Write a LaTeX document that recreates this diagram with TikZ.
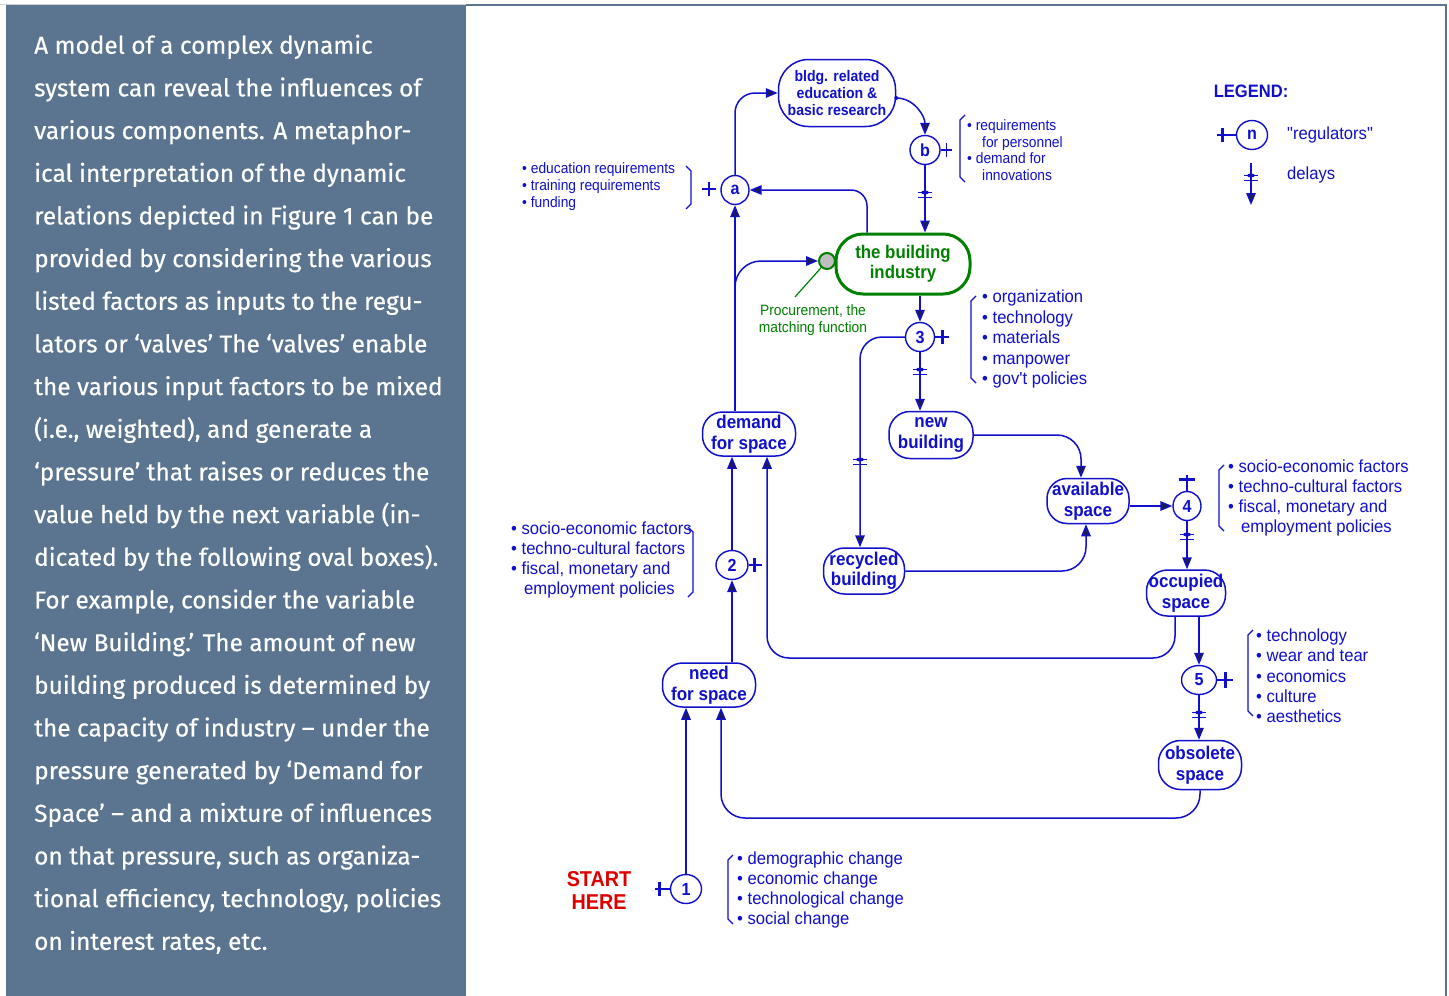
\documentclass[tikz,border=0pt]{standalone}
\usepackage{fontspec}
\setmainfont{Liberation Sans}
\newfontfamily\diafont{Liberation Sans}
\newfontfamily\labfont[FakeStretch=0.92]{Liberation Sans}
\newfontfamily\narfont[FakeStretch=0.95]{Liberation Sans}
\newfontfamily\panelfont[FakeBold=0.5]{Fira Sans}
\usetikzlibrary{arrows.meta,shapes.geometric}
\definecolor{dblue}{RGB}{16,16,204}
\definecolor{arrc}{RGB}{30,30,70}
\definecolor{dgreen}{RGB}{0,128,0}
\definecolor{sred}{RGB}{220,0,0}
\definecolor{panelc}{RGB}{91,117,144}
\newcommand\lblfont{\labfont\bfseries\fontsize{18.5}{20.5}\selectfont}
\newcommand\smfont{\labfont\fontsize{15}{17}\selectfont}
\newcommand\lstfont{\narfont\fontsize{17.5}{20.3}\selectfont}
\tikzset{
  every node/.style={inner sep=0pt},
  stad/.style={rectangle, draw=dblue, line width=1.5pt, text=dblue, align=center, font=\lblfont},
  reg/.style={ellipse, draw=dblue, line width=1.4pt, text=dblue, font=\labfont\bfseries\fontsize{17.5}{17}\selectfont, minimum width=30pt, minimum height=29pt},
  arr/.style={draw=dblue, line width=1.5pt, -{Triangle[length=12pt,width=9.5pt,fill=arrc]}},
  rl/.style={draw=dblue, line width=1.4pt},
  rb/.style={draw=dblue, line width=2.8pt},
  brk/.style={draw=dblue, line width=1.1pt},
  lst/.style={anchor=west, align=left, text=dblue, font=\lstfont},
  slst/.style={anchor=west, align=left, text=dblue, font=\smfont},
  delaymk/.pic={
    \draw[dblue, line width=1.3pt] (-7,-2.5) -- (7,-2.5) (-7,2.5) -- (7,2.5);
    \fill[dblue] (0,-2.5) ellipse [x radius=4pt, y radius=2pt];
  }
}
\begin{document}
\begin{tikzpicture}[x=1pt,y=-1pt]
\useasboundingbox (0,0) rectangle (1449,996);
\fill[white] (0,0) rectangle (1449,996);
% left panel
\draw[gray!35, line width=1pt] (0,4) -- (466,4);
\fill[panelc] (6,5) rectangle (466,996);
\draw[panelc, line width=1.5pt] (466,5) -- (1446,5) -- (1446,996);
\node[anchor=north west, text=white, align=left, font=\panelfont\fontsize{24.4}{42.67}\selectfont] (ptext) at (34,34.5) {A model of a complex dynamic\\
system can reveal the influences of\\
various components. A metaphor-\\
ical interpretation of the dynamic\\
relations depicted in Figure 1 can be\\
provided by considering the various\\
listed factors as inputs to the regu-\\
lators or ‘valves’ The ‘valves’ enable\\
the various input factors to be mixed\\
(i.e., weighted), and generate a\\
‘pressure’ that raises or reduces the\\
value held by the next variable (in-\\
dicated by the following oval boxes).\\
For example, consider the variable\\
‘New Building.’ The amount of new\\
building produced is determined by\\
the capacity of industry – under the\\
pressure generated by ‘Demand for\\
Space’ – and a mixture of influences\\
on that pressure, such as organiza-\\
tional efficiency, technology, policies\\
on interest rates, etc.};

% main nodes
\node[stad, minimum width=117pt, minimum height=67pt, rounded corners=30pt, font=\labfont\bfseries\fontsize{15.3}{17}\selectfont] (bldg) at (837,93) {bldg. related\\education \&\\basic research};
\node[stad, draw=dgreen, line width=3pt, text=dgreen, minimum width=134pt, minimum height=60pt, rounded corners=27pt, font=\labfont\bfseries\fontsize{18.3}{20}\selectfont] (ind) at (903,264) {the building\\industry};
\node[stad, minimum width=84pt, minimum height=47pt, rounded corners=21pt] (new) at (931,435) {new\\building};
\node[stad, minimum width=93pt, minimum height=44pt, rounded corners=20pt] (dem) at (749,434) {demand\\for space};
\node[stad, minimum width=81pt, minimum height=46pt, rounded corners=21pt] (rec) at (864,571) {recycled\\building};
\node[stad, minimum width=82pt, minimum height=45pt, rounded corners=20pt] (avail) at (1088,501) {available\\space};
\node[stad, minimum width=79pt, minimum height=46pt, rounded corners=21pt] (occ) at (1186,593) {occupied\\space};
\node[stad, minimum width=83pt, minimum height=49pt, rounded corners=22pt] (obs) at (1200,765) {obsolete\\space};
\node[stad, minimum width=93pt, minimum height=44pt, rounded corners=20pt] (need) at (709,685) {need\\for space};

% regulators
\node[reg, minimum width=28pt, minimum height=29pt] (a) at (735,190) {a};
\node[reg] (b) at (925,150) {b};
\node[reg, minimum width=29pt] (n3) at (920,337) {3};
\node[reg, minimum width=28pt] (n4) at (1187,506) {4};
\node[reg, minimum width=32pt] (n2) at (732,565) {2};
\node[reg, minimum width=35pt] (n5) at (1199,680) {5};
\node[reg, minimum width=31pt] (n1) at (686,889) {1};

% procurement
\node[circle, draw=dgreen, line width=2pt, fill=gray!50, minimum size=16pt] (proc) at (827,261) {};
\node[align=center, text=dgreen, font=\smfont] (proclab) at (813,320) {Procurement, the\\matching function};
\coordinate (procend) at (795,297);
\draw[dgreen, line width=1.2pt] (proc) -- (procend);

% helper coordinates
\coordinate (y300) at (0,300);
\coordinate (yocc) at (0,658);
\coordinate (yobs) at (0,818);

% connectors
\draw[arr, rounded corners=20pt] (a.north) |- (bldg.west);
\fill[dblue] ([yshift=-5pt]bldg.east) circle [radius=2pt];
\draw[arr] ([yshift=-5pt]bldg.east) to[out=0,in=90] (b.north);
\draw[arr] (b.south) -- (b.south |- ind.north);
\pic at (925,195) {delaymk};
\draw[arr, rounded corners=16pt] (867,0 |- ind.north) |- (a.east);
\draw[arr] (a.south |- dem.north) -- (a.south);
\draw[arr, rounded corners=26pt] (a.south |- y300) |- (proc.west);
\draw[arr] (n3.north |- ind.south) -- (n3.north);
\draw[arr] (n3.south) -- (n3.south |- new.north);
\pic at (920,372) {delaymk};
\draw[arr, rounded corners=22pt] (n3.west) -| (860,0 |- rec.north);
\pic at (860,462) {delaymk};
\draw[arr, rounded corners=24pt] (new.east) -| (1081,0 |- avail.north);
\draw[arr, rounded corners=24pt] (rec.east) -| (1086,0 |- avail.south);
\draw[arr] (avail.east |- n4.west) -- (n4.west);
\draw[arr] (n4.south) -- (n4.south |- occ.north);
\pic at (1187,537) {delaymk};
\draw[arr, rounded corners=22pt] (1175,0 |- occ.south) |- (767,0 |- yocc) -- (767,0 |- dem.south);
\draw[arr] (n5.north |- occ.south) -- (n5.north);
\draw[arr] (n5.south) -- (n5.south |- obs.north);
\pic at (1199,715) {delaymk};
\draw[arr, rounded corners=24pt] (obs.south) |- (721,0 |- yobs) -- (721,0 |- need.south);
\draw[arr] (n1.north) -- (n1.north |- need.south);
\draw[arr] (n2.south |- need.north) -- (n2.south);
\draw[arr] (n2.north) -- (n2.north |- dem.south);

% regulator marks
\draw[rl] (702,189) -- (716,189) (709,182) -- (709,196);
\draw[rl] (b.east) -- ++(11,0);
\draw[rl] ([xshift=6pt]b.east) ++(0,-7) -- ++(0,14);
\draw[rl] (n3.east) -- ++(14,0);
\draw[rb] ([xshift=7pt]n3.east) ++(0,-7) -- ++(0,14);
\draw[rl] (n4.north) -- ++(0,-16);
\draw[rb] ([yshift=11pt]n4.north) ++(-8,0) -- ++(16,0);
\draw[rl] (n2.east) -- ++(13,0);
\draw[rb] ([xshift=6pt]n2.east) ++(0,-7) -- ++(0,14);
\draw[rl] (n5.east) -- ++(16,0);
\draw[rb] ([xshift=8pt]n5.east) ++(0,-8) -- ++(0,16);
\draw[rb] (n1.west) -- ++(-15,0);
\draw[rb] ([xshift=-10pt]n1.west) ++(0,-7) -- ++(0,14);

% lists and brackets
\node[slst] (lsta) at (522,187) {• education requirements\\• training requirements\\• funding};
\draw[brk] (686,166) -- (691,171) -- (691,204) -- (686,209);
\node[slst, font=\labfont\fontsize{15}{16.7}\selectfont] (lstb) at (967,150) {• requirements\\\hspace*{15pt}for personnel\\• demand for\\\hspace*{15pt}innovations};
\draw[brk] (965,115) -- (960,120) -- (960,177) -- (965,182);
\node[lst, font=\narfont\fontsize{17.5}{20.5}\selectfont] (lst3) at (982,339) {• organization\\• technology\\• materials\\• manpower\\• gov't policies};
\draw[brk] (976,296) -- (971,301) -- (971,378) -- (976,383);
\node[lst] (lst4) at (1228,498) {• socio-economic factors\\• techno-cultural factors\\• fiscal, monetary and\\\hspace*{13pt}employment policies};
\draw[brk] (1224,465) -- (1219,470) -- (1219,526) -- (1224,531);
\node[lst] (lst2) at (511,560) {• socio-economic factors\\• techno-cultural factors\\• fiscal, monetary and\\\hspace*{13pt}employment policies};
\draw[brk] (688,527) -- (693,532) -- (693,592) -- (688,597);
\node[lst] (lst5) at (1256,676) {• technology\\• wear and tear\\• economics\\• culture\\• aesthetics};
\draw[brk] (1253,630) -- (1248,635) -- (1248,711) -- (1253,716);
\node[lst] (lst1) at (737,890) {• demographic change\\• economic change\\• technological change\\• social change};
\draw[brk] (733,855) -- (728,860) -- (728,919) -- (733,924);

% start here
\node[align=center, text=sred, font=\labfont\bfseries\fontsize{21.5}{23}\selectfont] (start) at (599,890) {START\\HERE};

% legend
\node[text=dblue, font=\labfont\bfseries\fontsize{18}{20}\selectfont] (legt) at (1251,91) {LEGEND:};
\node[reg, minimum width=31pt] (nl) at (1252,135) {n};
\draw[rb] (nl.west) -- ++(-19,0);
\draw[rb] ([xshift=-13pt]nl.west) ++(0,-7) -- ++(0,14);
\node[anchor=west, text=dblue, font=\lstfont] (legr) at (1287,135) {"regulators"};
\coordinate (ld1) at (1251,163);
\coordinate (ld2) at (1251,205);
\draw[arr] (ld1) -- (ld2);
\pic at (1251,178) {delaymk};
\node[anchor=west, text=dblue, font=\lstfont] (legd) at (1287,175) {delays};
\end{tikzpicture}
\end{document}
